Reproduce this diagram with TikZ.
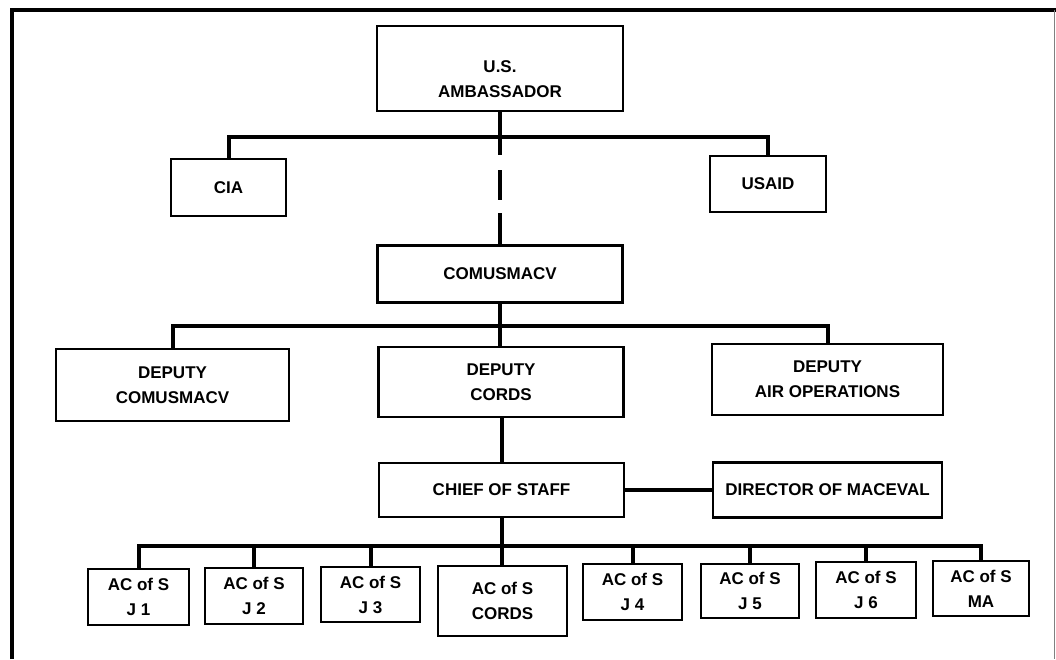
\documentclass[tikz,border=0pt]{standalone}
\usepackage{fontspec}
\setmainfont{Liberation Sans}
\usetikzlibrary{calc}

\begin{document}
\begin{tikzpicture}[x=1pt, y=-1pt, link/.style={line width=4pt}]
	\useasboundingbox (0,0) rectangle (1056,659);
	% frame
	\draw[line width=4pt] (11.5,659) -- (11.5,9.5) -- (1056,9.5);
	\draw[gray, line width=0.8pt] (1054.5,9.5) -- (1054.5,659);
	\begin{scope} [every node/.style={draw, line width=2.6pt, align=center, inner sep=0pt, font=\fontsize{17}{25}\selectfont\bfseries}]
		\node[minimum width=246pt, minimum height=85pt] (amb) at (500,68.5){\rule{0pt}{34pt}U.S.\\AMBASSADOR};
		\node[minimum width=115pt, minimum height=57pt] (cia) at (228.5,187.5){CIA};
		\node[minimum width=116pt, minimum height=56pt] (usaid) at (768,184){USAID};
		\node[minimum width=245pt, minimum height=57pt] (comus) at (500,274){COMUSMACV};
		\node[minimum width=233pt, minimum height=72pt] (depcom) at (172.5,385){DEPUTY\\COMUSMACV};
		\node[minimum width=245pt, minimum height=70pt] (depcords) at (501,382){DEPUTY\\CORDS};
		\node[minimum width=231pt, minimum height=71pt] (depair) at (827.5,379.5){DEPUTY\\AIR OPERATIONS};
		\node[minimum width=245pt, minimum height=54pt] (chief) at (501.5,490){CHIEF OF STAFF};
		\node[minimum width=229pt, minimum height=55pt] (maceval) at (827.5,490){DIRECTOR OF MACEVAL};
		\node[minimum width=101pt, minimum height=56pt] (j1) at (138.5,597){AC of S\\J 1};
		\node[minimum width=98pt, minimum height=56pt] (j2) at (254,596){AC of S\\J 2};
		\node[minimum width=99pt, minimum height=55pt] (j3) at (370.5,594.5){AC of S\\J 3};
		\node[minimum width=129pt, minimum height=70pt] (cords) at (502.5,601){AC of S\\CORDS};
		\node[minimum width=99pt, minimum height=56pt] (j4) at (632.5,592){AC of S\\J 4};
		\node[minimum width=98pt, minimum height=54pt] (j5) at (750,591){AC of S\\J 5};
		\node[minimum width=100pt, minimum height=56pt] (j6) at (866,590){AC of S\\J 6};
		\node[minimum width=96pt, minimum height=55pt] (ma) at (981,588.5){AC of S\\MA};
	\end{scope}
	\coordinate (bus1) at (500,137);
	\coordinate (bus2) at (500,326);
	\coordinate (bus3) at (502,546);
	\draw[link, dash pattern=on 43pt off 15pt on 30pt off 13pt] (amb.south) -- (comus.north);
	\draw[link] (cia.north) |- (bus1) -| (usaid.north);
	\draw[link] (depcom.north) |- (bus2) -| (depair.north);
	\draw[link] (comus.south) -- (comus.south |- depcords.north);
	\draw[link] (chief.north |- depcords.south) -- (chief.north);
	\draw[link] (chief) -- (maceval);
	\draw[link] (chief.south) -- (chief.south |- cords.north);
	\draw[link] (j1.north) |- (bus3) -| (ma.north);
	\foreach \j in {j2,j3,j4,j5,j6}
		\draw[link] (\j.north) -- (\j.north |- bus3);
\end{tikzpicture}
\end{document}
